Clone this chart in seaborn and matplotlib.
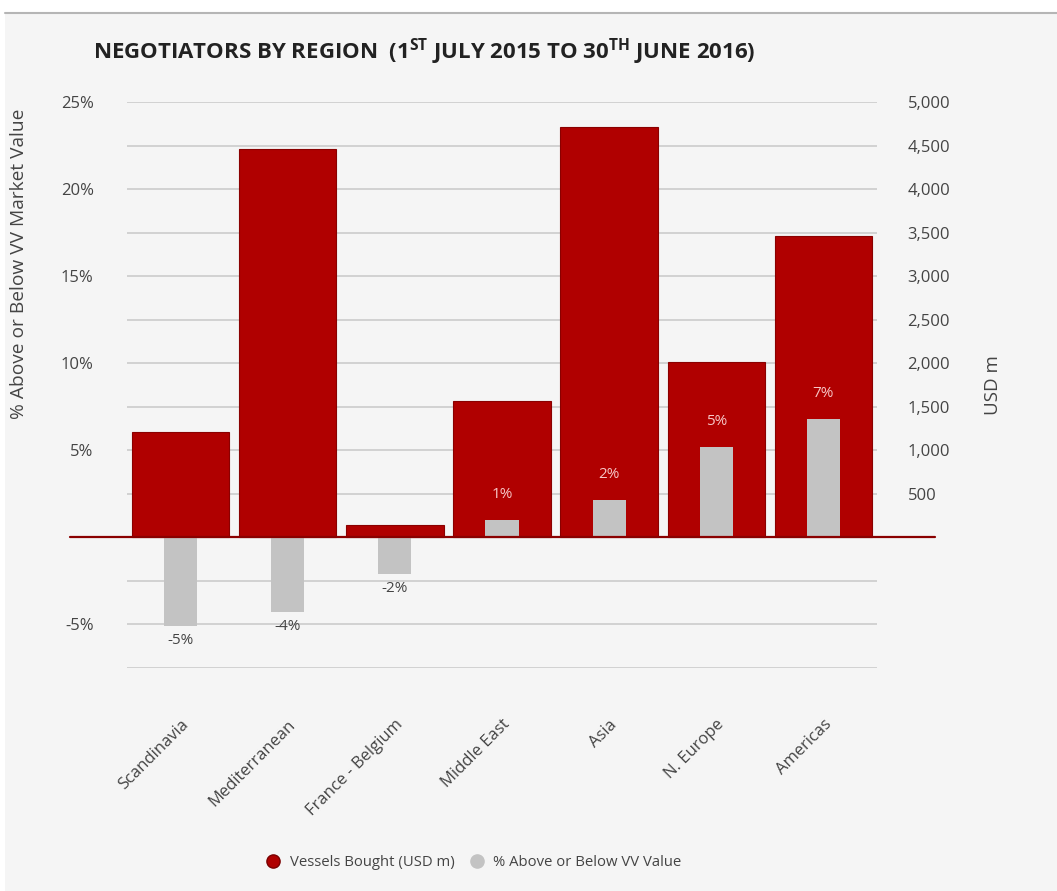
import matplotlib
matplotlib.use("Agg")
import matplotlib.pyplot as plt
from matplotlib.lines import Line2D
from matplotlib.patches import Rectangle
import seaborn as sns
import pandas as pd

# ---- data ----
regions = ["Scandinavia", "Mediterranean", "France - Belgium", "Middle East",
           "Asia", "N. Europe", "Americas"]
vessels_usd_m = [1213, 4458, 146, 1567, 4712, 2016, 3456]
pct_vs_vv = [-5.1, -4.26, -2.09, 1.02, 2.17, 5.2, 6.8]
pct_labels = ["-5%", "-4%", "-2%", "1%", "2%", "5%", "7%"]
left_ticks = [-5, 5, 10, 15, 20, 25]
right_ticks = [500, 1000, 1500, 2000, 2500, 3000, 3500, 4000, 4500, 5000]

RED = "#b00000"
GREY = "#c3c3c3"
BG = "#f5f5f5"
TXT = "#444444"

sns.set_theme(style="white")
plt.rcParams["font.family"] = ["Open Sans", "DejaVu Sans"]
plt.rcParams["mathtext.fontset"] = "custom"
plt.rcParams["mathtext.bf"] = "Open Sans:bold"
plt.rcParams["mathtext.rm"] = "Open Sans"

df = pd.DataFrame({"region": regions, "usd": vessels_usd_m, "pct": pct_vs_vv})

fig = plt.figure(figsize=(10.57, 8.91), dpi=100, facecolor="white")
# background panel
fig.patches.append(Rectangle((5 / 1057, 0), 1, 1 - 13 / 891, transform=fig.transFigure,
                             facecolor=BG, edgecolor="none", zorder=-10))
fig.lines.append(Line2D([5 / 1057, 1], [1 - 13 / 891] * 2, transform=fig.transFigure,
                        color="#b5b5b5", lw=1.5, zorder=-9))

ax = fig.add_axes([127 / 1057, 1 - 668 / 891, 750 / 1057, 566 / 891])
ax2 = ax.twinx()
ax.set_zorder(ax2.get_zorder() + 1)
ax.patch.set_visible(False)
ax2.patch.set_visible(False)

# red bars on the USD axis (behind)
sns.barplot(data=df, x="region", y="usd", color=RED, width=0.91, saturation=1,
            edgecolor="#8a0000", linewidth=0.8, ax=ax2)
# grey bars on the % axis (front)
sns.barplot(data=df, x="region", y="pct", color=GREY, width=0.31, saturation=1,
            linewidth=0, ax=ax)

ax.set_ylim(-7.5, 25)
ax2.set_ylim(-1500, 5000)
ax.set_xlim(-0.5, 6.5)
ax2.set_xlim(-0.5, 6.5)

# gridlines on the back axis
grid_vals = list(range(-1500, 5001, 500))
ax2.set_yticks(grid_vals)
ax2.set_yticklabels([f"{v:,}" if v > 0 else "" for v in grid_vals])
ax2.yaxis.grid(True, color="#cccccc", lw=1.2)
ax2.set_axisbelow(True)
ax2.tick_params(axis="y", length=0, pad=22, labelsize=12, labelcolor=TXT)
ax2.set_ylabel("USD m", fontsize=13.5, color=TXT, labelpad=24)
ax2.set_xlabel("")

ax.set_yticks(left_ticks)
ax.set_yticklabels([f"{v}%" for v in left_ticks])
ax.tick_params(axis="y", length=0, pad=24, labelsize=12, labelcolor=TXT)
ax.set_ylabel("% Above or Below VV Market Value", fontsize=13.8, color=TXT)
ax.yaxis.set_label_coords(-0.132, 0.714)
ax.set_xlabel("")
ax.tick_params(axis="x", length=0, pad=35, labelsize=12, labelcolor=TXT)
for lbl in ax.get_xticklabels():
    lbl.set_rotation(45)
    lbl.set_ha("right")
    lbl.set_rotation_mode("anchor")
ax2.tick_params(axis="x", length=0, labelbottom=False)

for a in (ax, ax2):
    for s in a.spines.values():
        s.set_visible(False)

# zero baseline
ax.axhline(0, xmin=-0.076, xmax=1.077, color="#8a0000", lw=1.6, clip_on=False, zorder=5)

# labels for grey bars
cont = ax.containers[0]
pos_labels = [l if v > 0 else "" for l, v in zip(pct_labels, pct_vs_vv)]
neg_labels = [l if v < 0 else "" for l, v in zip(pct_labels, pct_vs_vv)]
ax.bar_label(cont, labels=pos_labels, padding=13, color="#f6c6c6", fontsize=11)
ax.bar_label(cont, labels=neg_labels, padding=5, color=TXT, fontsize=11)

# title
fig.text(93 / 1057, 1 - 52 / 891,
         r"NEGOTIATORS BY REGION  (1$^{\mathbf{ST}}$ JULY 2015 TO 30$^{\mathbf{TH}}$ JUNE 2016)",
         fontsize=16, fontweight="bold", color="#222222", va="center", ha="left")

# legend
handles = [Line2D([], [], marker="o", ls="", color=RED, markersize=9.5, markeredgecolor="#7a0000"),
           Line2D([], [], marker="o", ls="", color=GREY, markersize=9.5, markeredgecolor=GREY)]
fig.legend(handles, ["Vessels Bought (USD m)", "% Above or Below VV Value"],
           loc="center", bbox_to_anchor=(470 / 1057, 1 - 863 / 891), ncol=2, frameon=False,
           fontsize=10.7, handletextpad=0.1, columnspacing=0.5, labelcolor=TXT)

fig.savefig("out.png", dpi=100, facecolor=fig.get_facecolor())
